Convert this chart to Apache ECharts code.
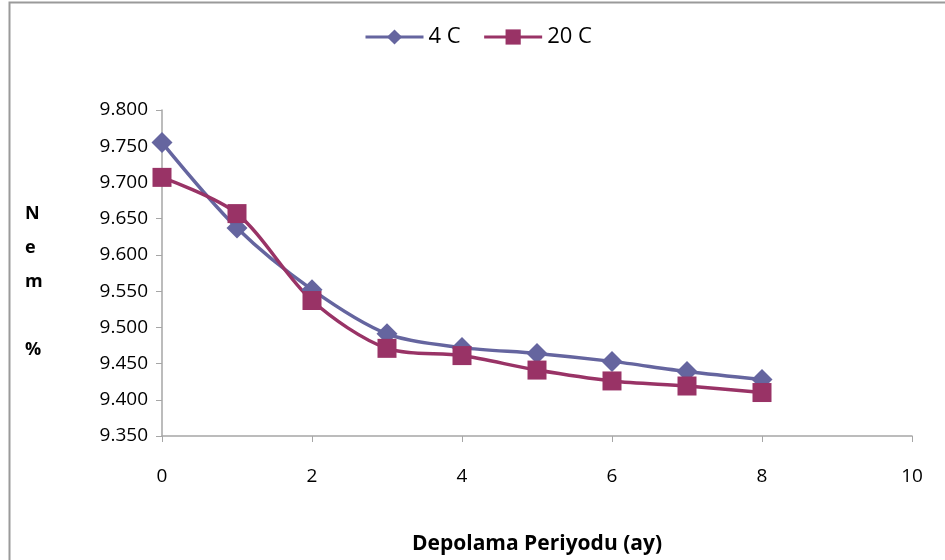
<!DOCTYPE html>
<html><head><meta charset="utf-8">
<script src="https://cdn.jsdelivr.net/npm/echarts@6/dist/echarts.min.js"></script>
<style>html,body{margin:0;padding:0;background:#fff}#c{width:945px;height:560px}</style>
</head><body><div id="c"></div>
<script>
var months = [0, 1, 2, 3, 4, 5, 6, 7, 8];
var series4C = [9.755, 9.637, 9.552, 9.491, 9.472, 9.464, 9.453, 9.439, 9.428];
var series20C = [9.707, 9.657, 9.537, 9.471, 9.461, 9.441, 9.426, 9.419, 9.410];
var seriesNames = ['4 C', '20 C'];
var xTicks = [0, 2, 4, 6, 8, 10];

var font = '"Open Sans", sans-serif';
function pairs(vals){ return months.map(function(m,i){ return [m, vals[i]]; }); }
var chart = echarts.init(document.getElementById('c'));
chart.setOption({
  animation: false,
  backgroundColor: '#fff',
  graphic: [
    {type:'rect', shape:{x:9.5, y:2.5, width:1000, height:1000}, style:{fill:'none', stroke:'#9a9a9a', lineWidth:2}, silent:true},
    {type:'text', left: 25, top: 197, style:{text:'N\ne\nm\n\n%', font:'bold 18px ' + font, lineHeight:34, fill:'#000', align:'center'}}
  ],
  legend: {
    top: 21, left: 359, itemWidth: 58, itemHeight: 19, itemGap: 22,
    textStyle: {fontFamily: font, fontSize: 22, color: '#000'},
    lineStyle: {width: 3},
    data: seriesNames
  },
  grid: {left: 162, right: 33, top: 110, bottom: 122},
  xAxis: {
    type: 'value', min: 0, max: 10, interval: 2,
    name: 'Depolama Periyodu (ay)', nameLocation: 'middle', nameGap: 98,
    nameTextStyle: {fontFamily: font, fontSize: 21, fontWeight: 'bold', color: '#000'},
    axisLine: {lineStyle: {color: '#a6a6a6', width: 1.5}},
    axisTick: {show: true, length: 6, lineStyle: {color: '#a6a6a6'}},
    axisLabel: {fontFamily: font, fontSize: 19, color: '#000', margin: 31,
      formatter: function(v){ return xTicks.indexOf(v) >= 0 ? String(v) : ''; }},
    splitLine: {show: false}
  },
  yAxis: {
    type: 'value', min: 9.35, max: 9.8, interval: 0.05,
    axisLine: {show: true, lineStyle: {color: '#a6a6a6', width: 1.5}},
    axisTick: {show: true, length: 6, lineStyle: {color: '#a6a6a6'}},
    axisLabel: {fontFamily: font, fontSize: 19, color: '#000', margin: 14,
      formatter: function(v){ return v.toFixed(3); }},
    splitLine: {show: false}
  },
  series: [
    {name: seriesNames[0], type: 'line', data: pairs(series4C), smooth: 0.3,
     symbol: 'diamond', symbolSize: 21,
     lineStyle: {color: '#65659f', width: 3.5}, itemStyle: {color: '#65659f'}},
    {name: seriesNames[1], type: 'line', data: pairs(series20C), smooth: 0.3,
     symbol: 'rect', symbolSize: 19,
     lineStyle: {color: '#993366', width: 3.5}, itemStyle: {color: '#993366'}}
  ]
});
</script></body></html>
